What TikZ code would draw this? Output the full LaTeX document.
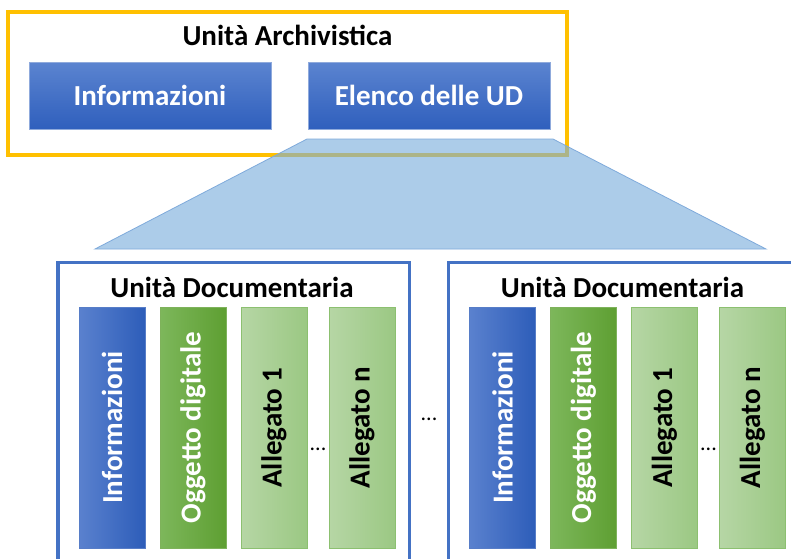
\documentclass[tikz,border=0pt]{standalone}
\usepackage{fontspec}
\setmainfont{Carlito}
\definecolor{uayellow}{HTML}{FFC000}
\definecolor{udblue}{HTML}{4472C4}
\definecolor{topA}{HTML}{5B84D0}
\definecolor{topB}{HTML}{2F5FBD}
\definecolor{topEdge}{HTML}{8FAADC}
\definecolor{infA}{HTML}{5A81CE}
\definecolor{infB}{HTML}{2D5DB9}
\definecolor{ogA}{HTML}{7DB75B}
\definecolor{ogB}{HTML}{5E9F32}
\definecolor{alA}{HTML}{B6D6A5}
\definecolor{alB}{HTML}{9BC883}
\definecolor{alEdge}{HTML}{8CC070}
\definecolor{trapFill}{HTML}{7AAEDC}
\definecolor{trapEdge}{HTML}{7FAADB}
\tikzset{
  bigtext/.style={font=\fontsize{29}{34}\selectfont\bfseries},
  topbox/.style={draw=topEdge, line width=0.6pt, top color=topA, bottom color=topB,
    minimum width=242pt, minimum height=67pt, inner sep=0pt, outer sep=0pt,
    text=white, bigtext},
  colbox/.style={minimum width=66pt, minimum height=241pt, inner sep=0pt, outer sep=0pt},
  infcol/.style={colbox, draw=infB!80, line width=0.4pt, left color=infA, right color=infB},
  ogcol/.style={colbox, draw=ogB!80, line width=0.4pt, left color=ogA, right color=ogB},
  alcol/.style={colbox, draw=alEdge, line width=0.6pt, left color=alA, right color=alB},
  coltext/.style={rotate=90, bigtext, inner sep=0pt},
  dotstext/.style={font=\fontsize{22}{26}\selectfont, inner sep=0pt},
}
\begin{document}
\begin{tikzpicture}[x=1pt,y=-1pt]
\useasboundingbox (0,0) rectangle (791,558);
\clip (0,0) rectangle (791,558);
\fill[white] (0,0) rectangle (791,558);

% Unita Archivistica
\draw[uayellow, line width=3.6pt] (8,12) rectangle (567,155);
\node[bigtext, text=black, inner sep=0pt] (uatitle) at (287.5,35) {Unità Archivistica};
\node[topbox] (uainfo) at (150,95.5) {Informazioni};
\node[topbox] (uaelenco) at (429,95.5) {Elenco delle UD};

% zoom trapezoid
\coordinate (tl) at (307,139);
\coordinate (tr) at (553,139);
\coordinate (br) at (766,249);
\coordinate (bl) at (95,249);
\fill[trapFill, fill opacity=0.62] (tl) -- (tr) -- (br) -- (bl) -- cycle;
\draw[trapEdge, line width=0.8pt] (tl) -- (tr) -- (br) -- (bl) -- cycle;

% Unita Documentarie
\foreach \dx/\nm in {0/L, 390.5/R} {
  \begin{scope}[xshift=\dx]
    \draw[udblue, line width=3.6pt] (58,262.5) rectangle (409.5,620);
    \node[bigtext, text=black, inner sep=0pt] (udtitle\nm) at (232,287) {Unità Documentaria};
    \node[infcol] (inf\nm) at (112,427.5) {};
    \node[coltext, text=white] at (inf\nm) {Informazioni};
    \node[ogcol] (og\nm) at (193,427.5) {};
    \node[coltext, text=white] at (og\nm) {Oggetto digitale};
    \node[alcol] (alone\nm) at (274,427.5) {};
    \node[coltext, text=black] at (alone\nm) {Allegato 1};
    \node[alcol] (aln\nm) at (362,427.5) {};
    \node[coltext, text=black] at (aln\nm) {Allegato n};
    \node[dotstext] (dots\nm) at (318,449) {...};
  \end{scope}
}
\node[dotstext] (dotsmid) at (429,419) {...};
\end{tikzpicture}
\end{document}
